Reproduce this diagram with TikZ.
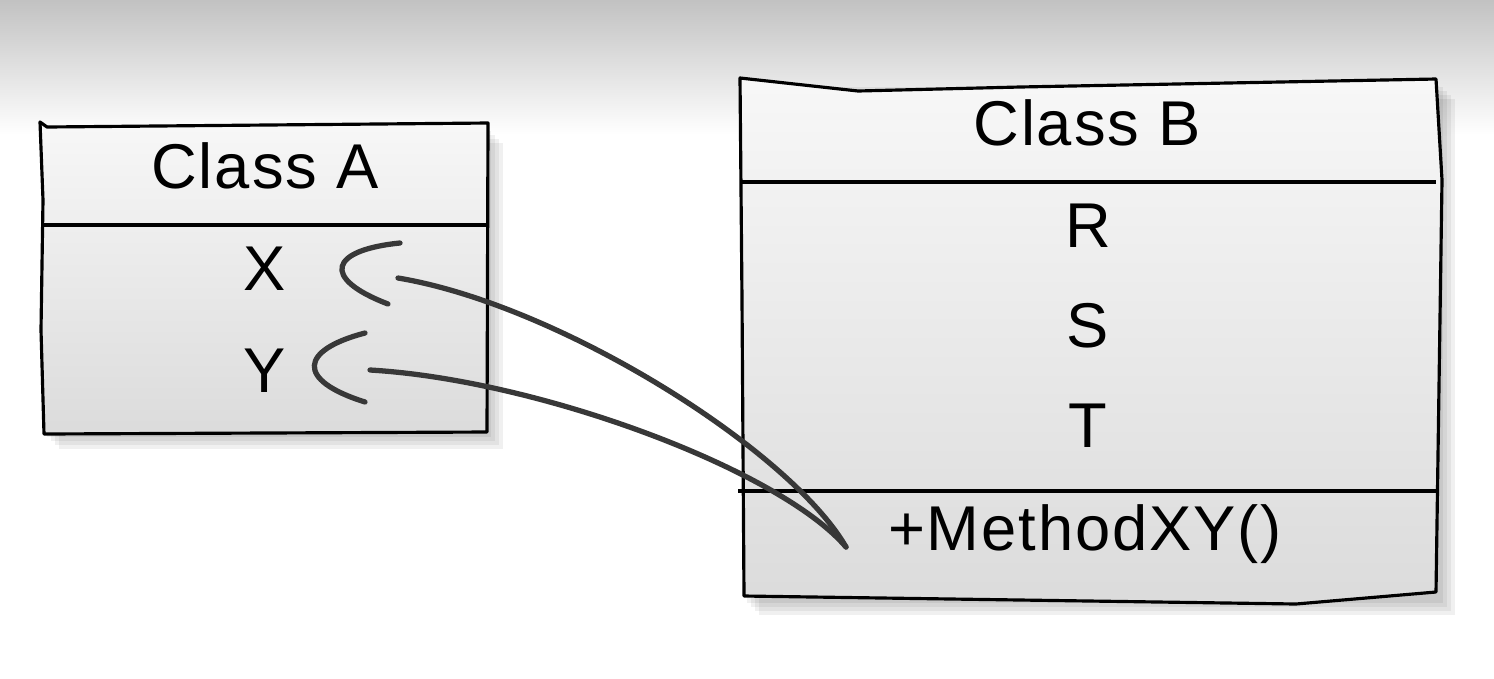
\documentclass[tikz,border=0pt]{standalone}
\usepackage{fontspec}
\setmainfont{Liberation Sans}

\begin{document}
\begin{tikzpicture}[x=0.01cm, y=-0.01cm,
  box/.style={draw=black, line width=0.9pt, top color=black!3, bottom color=black!14, line join=round},
  boxshadow/.style={fill=black, opacity=0.06},
  lbl/.style={font=\fontsize{18}{20}\selectfont\addfontfeature{LetterSpace=3}, inner sep=0pt, anchor=base},
  link/.style={draw=black!78, line width=1.5pt, line cap=round}]
  \useasboundingbox (0,0) rectangle (1494,678);
  \shade[top color=black!24, bottom color=white] (0,0) rectangle (1494,135);

  % soft shadows under the two classes
  \foreach \s in {3,7,11,15} {
    \fill[boxshadow] (44+\s,128+\s) rectangle (488+\s,434+\s);
    \fill[boxshadow] (744+\s,84+\s) rectangle (1440+\s,600+\s);
  }

  % class A
  \draw[box] (40,122) -- (47,127) -- (488,123) -- (487,432) -- (44,434) -- (41,330) -- (43,200) -- cycle;
  \draw[line width=0.9pt] (42,225) -- (487,225);
  \node[lbl] (nameA) at (265,188) {Class\hspace{0.3em}A};
  \node[lbl] (x) at (265,290) {X};
  \node[lbl] (y) at (265,392) {Y};

  % class B
  \draw[box] (740,78) -- (858,91) -- (1020,87) -- (1436,79) -- (1442,180) -- (1436,592) -- (1296,604) -- (744,596) -- (742,300) -- cycle;
  \draw[line width=0.9pt] (742,182) -- (1436,182);
  \draw[line width=0.9pt] (738,491) -- (1437,491);
  \node[lbl] (nameB) at (1087,145) {Class\hspace{0.3em}B};
  \node[lbl] (r) at (1088,247) {R};
  \node[lbl] (s) at (1088,347) {S};
  \node[lbl] (t) at (1088,447) {T};
  \node[lbl] (method) at (1085,550) {+MethodXY()};

  % links from the method to the attributes it uses
  \coordinate (xend) at (398,278);
  \coordinate (yend) at (370,370);
  \coordinate (mend) at (846,547);
  \draw[link] (mend) .. controls (790,450) and (560,305) .. (xend);
  \draw[link] (mend) .. controls (780,470) and (540,380) .. (yend);
  \draw[link] (400,243) .. controls (330,250) and (320,278) .. (388,304);
  \draw[link] (365,333) .. controls (300,350) and (295,380) .. (365,402);
\end{tikzpicture}
\end{document}
